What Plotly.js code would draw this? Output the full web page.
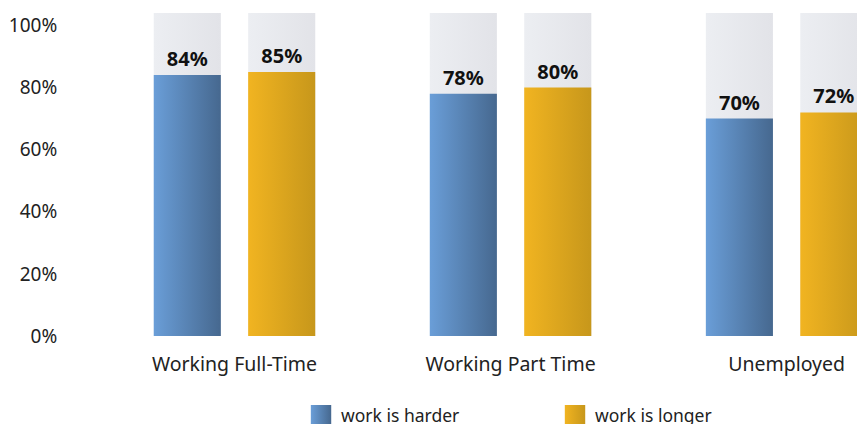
<!DOCTYPE html>
<html>
<head>
<meta charset="utf-8">
<script src="https://cdn.plot.ly/plotly-3.0.1.min.js"></script>
<style>html,body{margin:0;padding:0;background:#fff;overflow:hidden;}#chart{width:857px;height:440px;}</style>
</head>
<body>
<div id="chart"></div>
<script>
const categories = ['Working Full-Time', 'Working Part Time', 'Unemployed'];
const harder = [84, 78, 70];
const longer = [85, 80, 72];
const backdrop = [104, 104, 104];
const seriesNames = ['work is harder', 'work is longer'];
const yTickVals = [0, 20, 40, 60, 80, 100];
const yTickText = ['0%', '20%', '40%', '60%', '80%', '100%'];

const W = 0.243;
const offBlue = -0.2925, offYellow = 0.0495;
const labelFont = {family: 'Noto Sans, Open Sans, sans-serif', size: 20, color: '#111'};

const traces = [
  {type: 'bar', x: categories, y: backdrop, width: W, offset: offBlue, marker: {color: '#e8e9ed'}, showlegend: false, hoverinfo: 'skip'},
  {type: 'bar', x: categories, y: backdrop, width: W, offset: offYellow, marker: {color: '#e8e9ed'}, showlegend: false, hoverinfo: 'skip'},
  {type: 'bar', name: seriesNames[0], x: categories, y: harder, width: W, offset: offBlue, marker: {color: '#5a86ba'},
   text: harder.map(v => '<b>' + v + '%</b>'), textposition: 'outside', textfont: labelFont, cliponaxis: false},
  {type: 'bar', name: seriesNames[1], x: categories, y: longer, width: W, offset: offYellow, marker: {color: '#e0aa1f'},
   text: longer.map(v => '<b>' + v + '%</b>'), textposition: 'outside', textfont: labelFont, cliponaxis: false}
];

const layout = {
  width: 857, height: 440,
  margin: {l: 65, r: 0, t: 13, b: 104},
  barmode: 'overlay',
  paper_bgcolor: '#fff', plot_bgcolor: '#fff',
  font: {family: 'Noto Sans, Open Sans, sans-serif', size: 16, color: '#222'},
  xaxis: {type: 'category', range: [-0.614, 2.255], showgrid: false, zeroline: false, showline: false, automargin: false,
          ticks: 'outside', ticklen: 11, tickcolor: 'rgba(0,0,0,0)', tickfont: {size: 19.5, color: '#222'}, fixedrange: true},
  yaxis: {range: [0, 104], tickvals: yTickVals, ticktext: yTickText, showgrid: false, zeroline: false, showline: false, automargin: false,
          ticks: 'outside', ticklen: 3, tickcolor: 'rgba(0,0,0,0)', tickfont: {size: 19, color: '#222'}, fixedrange: true},
  legend: {orientation: 'h', x: 0.298, xanchor: 'left', y: -0.19, yanchor: 'top', entrywidth: 209, entrywidthmode: 'pixels',
           font: {size: 17.5, color: '#222'}, bgcolor: 'rgba(0,0,0,0)'},
  showlegend: true
};

Plotly.newPlot('chart', traces, layout, {displayModeBar: false, staticPlot: true}).then(function (gd) {
  const svg = gd.querySelector('svg.main-svg');
  const ns = 'http://www.w3.org/2000/svg';
  let defs = svg.querySelector('defs');
  if (!defs) { defs = document.createElementNS(ns, 'defs'); svg.insertBefore(defs, svg.firstChild); }
  function grad(id, c1, c2) {
    const g = document.createElementNS(ns, 'linearGradient');
    g.setAttribute('id', id); g.setAttribute('x1', '0'); g.setAttribute('x2', '1'); g.setAttribute('y1', '0'); g.setAttribute('y2', '0');
    [[0, c1], [1, c2]].forEach(function (s) {
      const st = document.createElementNS(ns, 'stop');
      st.setAttribute('offset', s[0]); st.setAttribute('stop-color', s[1]);
      g.appendChild(st);
    });
    defs.appendChild(g);
  }
  grad('gGray', '#eceef2', '#e2e3e8');
  grad('gBlue', '#6a9ed8', '#46688f');
  grad('gYellow', '#f1b421', '#c7971b');
  const fills = ['url(#gGray)', 'url(#gGray)', 'url(#gBlue)', 'url(#gYellow)'];
  gd.querySelectorAll('.barlayer .trace').forEach(function (tr, i) {
    tr.querySelectorAll('path').forEach(function (p) { p.style.fill = fills[i]; });
  });
  gd.querySelectorAll('.legend .traces').forEach(function (tr, i) {
    tr.querySelectorAll('.legendpoints path').forEach(function (p) {
      p.style.fill = fills[i + 2];
      p.style.stroke = 'none';
      const t = p.getAttribute('transform') || '';
      p.setAttribute('transform', t + ' scale(1.7)');
    });
  });
});
</script>
</body>
</html>
